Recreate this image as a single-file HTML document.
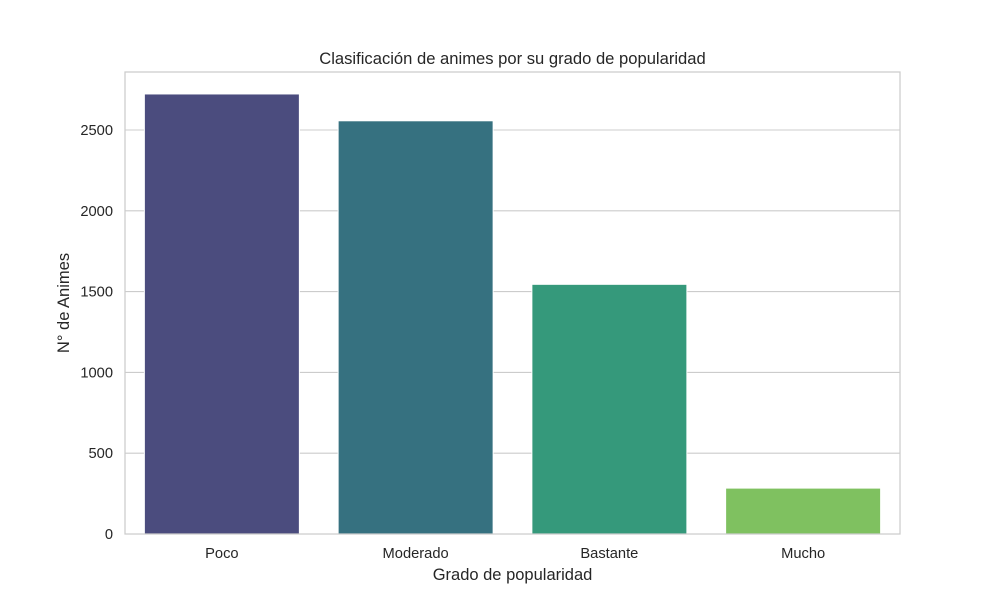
<!DOCTYPE html>
<html><head><meta charset="utf-8"><style>
body{margin:0;background:#fff;}
svg{display:block;font-family:"Liberation Sans",Arial,sans-serif;}
</style></head><body>
<svg id="chart" width="1000" height="600" viewBox="0 0 1000 600">
<rect width="1000" height="600" fill="#fff"/>
<g id="grid"></g>
<g id="bars"></g>
<rect x="125" y="72" width="775" height="462" fill="none" stroke="#cccccc" stroke-width="1.25"/>
<g id="ticks"></g>
<text x="512.5" y="64" text-anchor="middle" font-size="16.6" fill="#262626">Clasificación de animes por su grado de popularidad</text>
<text x="512.5" y="580" text-anchor="middle" font-size="16.5" fill="#262626">Grado de popularidad</text>
<text transform="translate(69,303) rotate(-90)" text-anchor="middle" font-size="16.5" fill="#262626">N° de Animes</text>
</svg>
<script>
const categories = ["Poco","Moderado","Bastante","Mucho"];
const values = [2723,2557,1545,284];
const yTicks = [0,500,1000,1500,2000,2500];
const colors = ["#4b4c7e","#367180","#35997b","#7fc160"];
const NS="http://www.w3.org/2000/svg";
const x0=125,x1=900,yBase=534,pxPerUnit=404/2500;
const step=(x1-x0)/categories.length, bw=step*0.8;
const y=v=>yBase-v*pxPerUnit;
const xc=i=>x0+step*(i+0.5);
function mk(tag,attrs){const e=document.createElementNS(NS,tag);for(const k in attrs)e.setAttribute(k,attrs[k]);return e;}
const grid=document.getElementById('grid'),bars=document.getElementById('bars'),ticks=document.getElementById('ticks');
yTicks.forEach(t=>{
  const l=mk('line',{x1:x0,x2:x1,y1:y(t),y2:y(t),stroke:'#cccccc','stroke-width':1.1});
  
  
  grid.appendChild(l);
  const tx=mk('text',{x:x0-12,y:y(t)+5,'text-anchor':'end','font-size':14.7,fill:'#262626'});
  tx.textContent=t;
  
  
  ticks.appendChild(tx);
});
categories.forEach((c,i)=>{
  const r=mk('rect',{x:xc(i)-bw/2,y:y(values[i]),width:bw,height:yBase-y(values[i]),fill:colors[i],stroke:'#ffffff','stroke-width':1});
  
  
  bars.appendChild(r);
  const tx=mk('text',{x:xc(i),y:558,'text-anchor':'middle','font-size':14.7,fill:'#262626'});
  tx.textContent=c;
  
  
  ticks.appendChild(tx);
});
</script>
</body></html>
